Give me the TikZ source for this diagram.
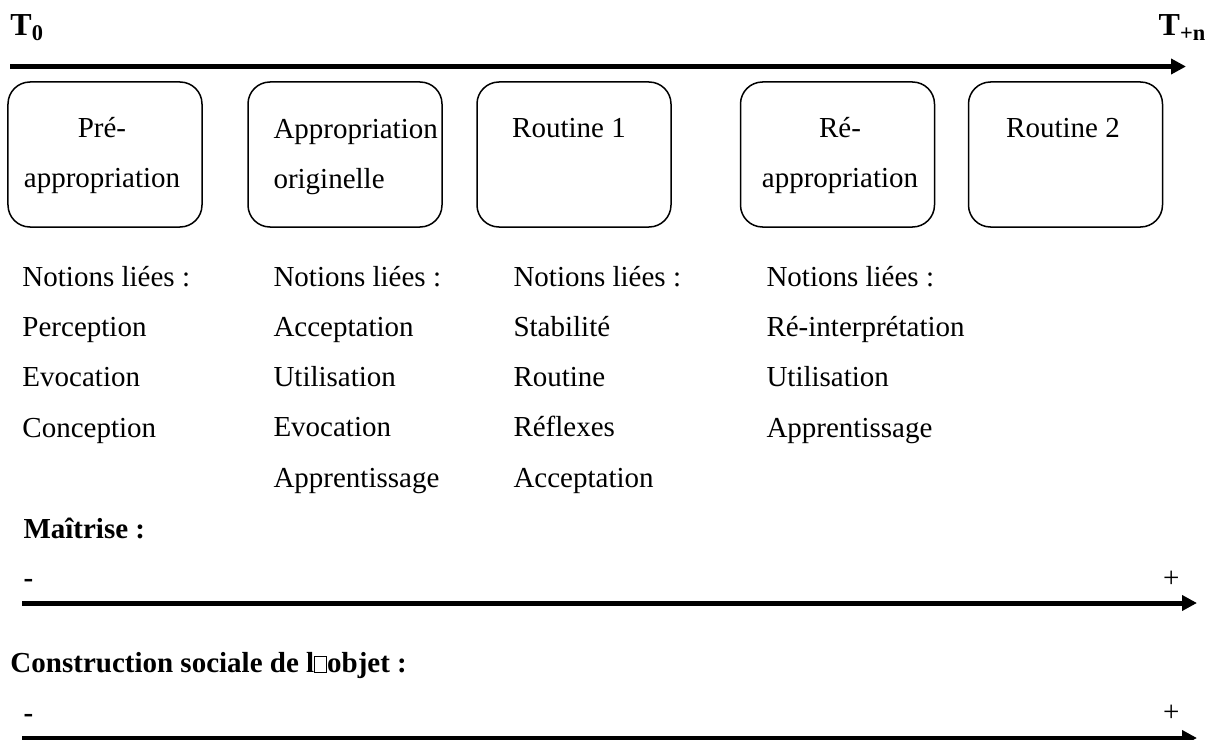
\documentclass[tikz,border=0pt]{standalone}
\usepackage{fontspec}
\setmainfont{Liberation Serif}
\usetikzlibrary{arrows.meta}

\tikzset{
  phase/.style={draw, rounded corners=8.8pt, line width=0.6pt,
    minimum width=77.6pt, minimum height=58pt, inner sep=0pt},
  phasetext/.style={anchor=base, align=center, inner sep=0pt,
    font=\fontsize{11.6}{20}\selectfont},
  notion/.style={anchor=base west, align=left, inner sep=0pt,
    font=\fontsize{11.6}{20.1}\selectfont},
  titre/.style={anchor=base west, inner sep=0pt,
    font=\fontsize{11.6}{14}\selectfont\bfseries},
  temps/.style={inner sep=0pt, font=\fontsize{12.8}{15}\selectfont\bfseries},
  signe/.style={inner sep=0pt, font=\fontsize{11.6}{14}\selectfont},
  axe/.style={line width=2pt, -{Triangle[length=6pt,width=6pt]}},
}
\newcommand{\carre}{{\fboxsep=0pt\fboxrule=0.3pt\fbox{\rule{0pt}{6pt}\hspace{4.6pt}}}}

\begin{document}
\begin{tikzpicture}[x=0.4pt,y=-0.4pt]
\useasboundingbox (0,0) rectangle (1215,740);

% axe du temps
\node[temps, anchor=base west] (t0) at (10,36) {T\textsubscript{0}};
\node[temps, anchor=base east] (tn) at (1207,36) {T\textsubscript{+n}};
\coordinate (debut) at (10,66.5);
\coordinate (fin) at (1186,66.5);
\draw[axe] (debut) -- (fin);

% phases (texte : base de la derniere ligne)
\node[phase] (pre) at (105,154.5) {};
\node[phase] (orig) at (345,154.5) {};
\node[phase] (rout1) at (574,154.5) {};
\node[phase] (reapp) at (837.5,154.5) {};
\node[phase] (rout2) at (1065.5,154.5) {};
\node[phasetext] (pretxt) at (102,187) {Pré-\\appropriation};
\node[phasetext, anchor=base west, align=left] (origtxt) at (273,188) {Appropriation\\originelle};
\node[phasetext] (rout1txt) at (569,137) {Routine 1};
\node[phasetext] (reapptxt) at (840,187) {Ré-\\appropriation};
\node[phasetext] (rout2txt) at (1063,137) {Routine 2};

% notions
\node[notion] (notions1) at (22,437) {Notions liées :\\Perception\\Evocation\\Conception};
\node[notion] (notions2) at (273,487) {Notions liées :\\Acceptation\\Utilisation\\Evocation\\Apprentissage};
\node[notion] (notions3) at (513,487) {Notions liées :\\Stabilité\\Routine\\Réflexes\\Acceptation};
\node[notion] (notions4) at (766,437) {Notions liées :\\Ré-interprétation\\Utilisation\\Apprentissage};

% maitrise
\node[titre] (maitrise) at (23,538) {Maîtrise :};
\node[signe, anchor=base west] (moins1) at (23,587) {\textbf{-}};
\node[signe, anchor=base east] (plus1) at (1180,587) {+};
\coordinate (m1) at (22,603);
\coordinate (m2) at (1197,603);
\draw[axe] (m1) -- (m2);

% construction sociale
\node[titre] (construction) at (10,672) {Construction sociale de l\carre objet :};
\node[signe, anchor=base west] (moins2) at (23,722) {\textbf{-}};
\node[signe, anchor=base east] (plus2) at (1180,721) {+};
\coordinate (c1) at (22,738);
\coordinate (c2) at (1197,738);
\draw[axe] (c1) -- (c2);
\end{tikzpicture}
\end{document}
